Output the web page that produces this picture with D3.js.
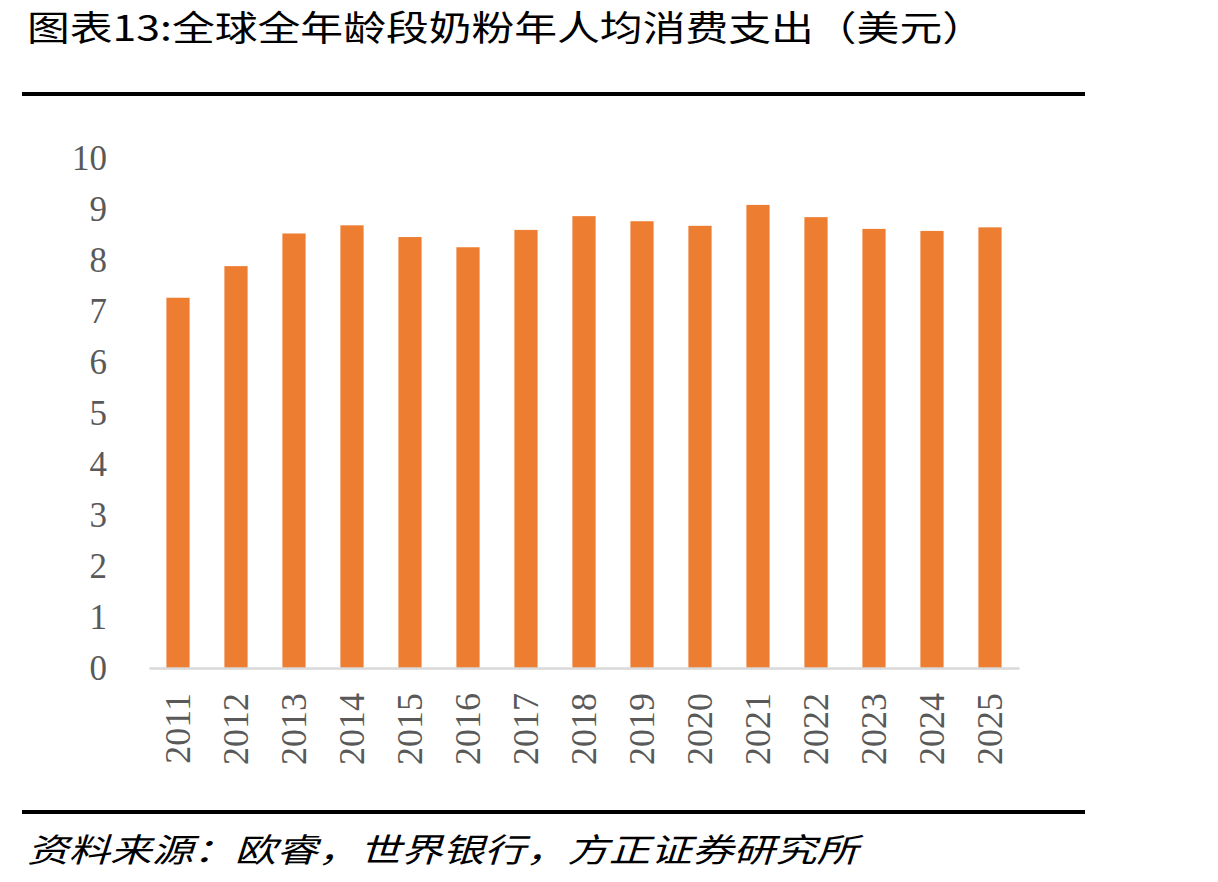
<!DOCTYPE html>
<html>
<head>
<meta charset="utf-8">
<script src="https://cdn.jsdelivr.net/npm/d3@7"></script>
<style>
  body { margin: 0; background: #fff; }
</style>
</head>
<body>
<div id="chart-area"></div>
<script>
// data
var years = ["2011", "2012", "2013", "2014", "2015", "2016", "2017", "2018",
	"2019", "2020", "2021", "2022", "2023", "2024", "2025"];
var spend = [7.26, 7.88, 8.52, 8.68, 8.45, 8.25, 8.59, 8.86,
	8.76, 8.67, 9.08, 8.84, 8.61, 8.57, 8.64];
var yTicks = [0, 1, 2, 3, 4, 5, 6, 7, 8, 9, 10];

var titleText = "图表13:全球全年龄段奶粉年人均消费支出（美元）";
var sourceText = "资料来源：欧睿，世界银行，方正证券研究所";

var W = 1218, H = 882;
var margin = {top: 158, left: 149, bottom: 214, right: 199};

var svg = d3.select("#chart-area")
.append("svg")
	.attr("width", W)
	.attr("height", H);

var cjk = "'Noto Sans CJK SC', 'Noto Sans', sans-serif";
var serif = "'Liberation Serif', 'DejaVu Serif', serif";

// title
svg.append("text")
	.attr("x", 27)
	.attr("y", 41)
	.attr("font-family", cjk)
	.attr("font-size", "35px")
	.attr("fill", "#000")
	.attr("textLength", 958)
	.attr("lengthAdjust", "spacingAndGlyphs")
	.text(titleText);

// top and bottom rules
svg.append("rect")
	.attr("x", 22).attr("y", 92)
	.attr("width", 1063).attr("height", 4)
	.attr("fill", "#000");
svg.append("rect")
	.attr("x", 22).attr("y", 810)
	.attr("width", 1063).attr("height", 4)
	.attr("fill", "#000");

// source
svg.append("text")
	.attr("x", 27)
	.attr("y", 862)
	.attr("font-family", cjk)
	.attr("font-size", "33px")
	.attr("font-style", "italic")
	.attr("fill", "#000")
	.attr("textLength", 831)
	.attr("lengthAdjust", "spacingAndGlyphs")
	.text(sourceText);

var g = svg.append("g")
	.attr("transform", "translate(" + margin.left + ", " + margin.top + ")");

// scales
var x = d3.scaleBand()
	.domain(years)
	.range([0, 870])
	.paddingInner(0.6)
	.paddingOuter(0.3);

var y = d3.scaleLinear()
	.domain([0, 10])
	.range([510, 0]);

// y labels
var yAxisCall = d3.axisLeft(y)
	.tickValues(yTicks)
	.tickSize(0)
	.tickPadding(42);
var yAxis = g.append("g")
	.attr("class", "y axis")
	.call(yAxisCall);
yAxis.select(".domain").remove();
yAxis.selectAll("text")
	.attr("font-family", serif)
	.attr("font-size", "35px")
	.attr("fill", "#595959")
	.attr("dy", "0.34em");

// bars
g.selectAll("rect.bar")
	.data(spend)
	.enter()
	.append("rect")
		.attr("class", "bar")
		.attr("x", function(d, i){ return x(years[i]); })
		.attr("width", x.bandwidth())
		.attr("y", function(d){ return y(d); })
		.attr("height", function(d){ return y(0) - y(d); })
		.attr("fill", "#ED7D31");

// x axis
var xAxisCall = d3.axisBottom(x)
	.tickSize(0)
	.tickPadding(0);
var xAxis = g.append("g")
	.attr("class", "x axis")
	.attr("transform", "translate(0, " + y(0) + ")")
	.call(xAxisCall);
xAxis.select(".domain")
	.attr("stroke", "#D9D9D9")
	.attr("stroke-width", 2.5);
xAxis.selectAll("text")
	.attr("font-family", serif)
	.attr("font-size", "36px")
	.attr("fill", "#595959")
	.attr("text-anchor", "end")
	.attr("transform", "rotate(-90)")
	.attr("x", -25)
	.attr("y", 0)
	.attr("dy", "0.34em");
</script>
</body>
</html>
